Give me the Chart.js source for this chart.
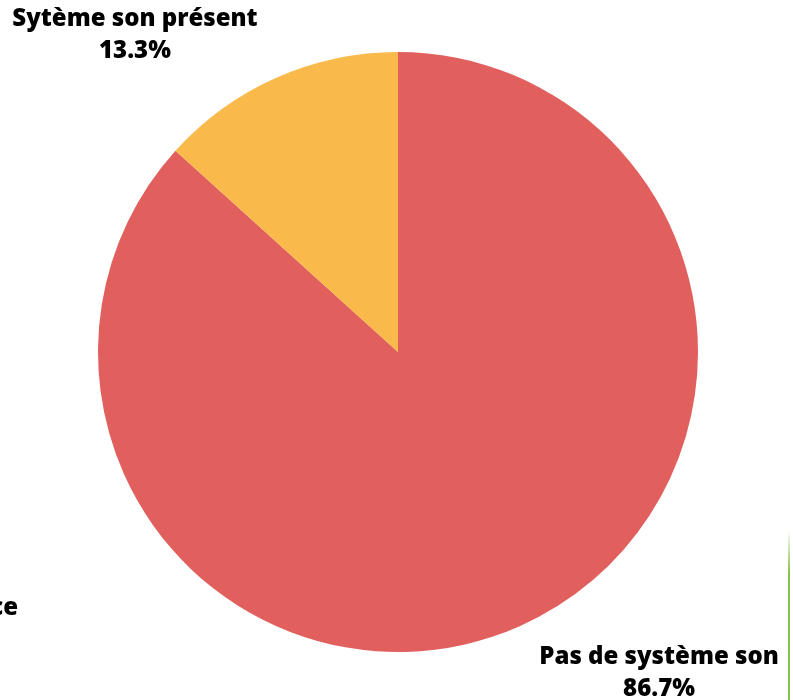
<!DOCTYPE html>
<html lang="fr">
<head>
<meta charset="utf-8">
<title>Système son</title>
<script src="https://cdn.jsdelivr.net/npm/chart.js@4/dist/chart.umd.min.js"></script>
<style>
  html, body { margin: 0; padding: 0; background: #fff; }
  #wrap { position: relative; width: 793px; height: 700px; overflow: hidden; }
  #pieChart { position: absolute; left: 0; top: 0; }
  .side-label {
    position: absolute; left: -80px; top: 589px; width: 98px; text-align: right;
    font: 800 24px "Open Sans", sans-serif; color: #000;
  }
  .divider {
    position: absolute; left: 788px; top: 530px; width: 2px; height: 170px;
    background: linear-gradient(to bottom, rgba(139,195,74,0), #8bc34a 25%);
  }
</style>
</head>
<body>
<div id="wrap">
  <canvas id="pieChart" width="793" height="700"></canvas>
  <div class="side-label">ce</div>
  <div class="divider"></div>
</div>
<script>
// Data
const labels = ['Pas de système son', 'Sytème son présent'];
const values = [86.7, 13.3];
const colors = ['#e1605e', '#f9ba4b'];

// Labels drawn outside the pie, offset from each slice's mid-angle
const outerLabels = {
  id: 'outerLabels',
  afterDatasetsDraw(chart) {
    const ctx = chart.ctx;
    const arcs = chart.getDatasetMeta(0).data;
    ctx.save();
    ctx.font = '800 24px "Open Sans", sans-serif';
    ctx.fillStyle = '#000';
    ctx.textAlign = 'center';
    ctx.textBaseline = 'middle';
    arcs.forEach((arc, i) => {
      const mid = (arc.startAngle + arc.endAngle) / 2;
      const r = arc.outerRadius + 50;
      const dx = Math.cos(mid), dy = Math.sin(mid);
      const x = arc.x + dx * r + (dx >= 0 ? 119 : -121);
      const y = arc.y + dy * r + (dy >= 0 ? 1 : 3);
      ctx.fillText(labels[i], x, y - 16);
      ctx.fillText(values[i].toFixed(1) + '%', x, y + 16);
    });
    ctx.restore();
  }
};

new Chart(document.getElementById('pieChart'), {
  type: 'pie',
  data: {
    labels: labels,
    datasets: [{
      data: values,
      backgroundColor: colors,
      borderWidth: 0
    }]
  },
  options: {
    responsive: false,
    animation: false,
    layout: { padding: { top: 52, bottom: 48, left: 98, right: 95 } },
    plugins: {
      legend: { display: false },
      tooltip: { enabled: false }
    }
  },
  plugins: [outerLabels]
});
</script>
</body>
</html>
